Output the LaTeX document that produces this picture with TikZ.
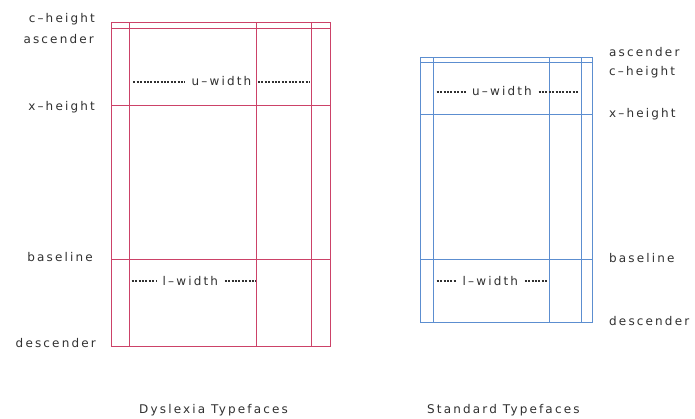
\documentclass[tikz,border=0pt]{standalone}
\usepackage{fontspec}
\usepackage{tikz}
\usetikzlibrary{calc}
\newfontfamily\lblfont[LetterSpace=18]{DejaVu Sans}
\definecolor{dyscol}{RGB}{204,66,104}
\definecolor{stdcol}{RGB}{92,142,208}
\definecolor{txtcol}{RGB}{48,48,48}
\begin{document}
\begin{tikzpicture}[x=1pt, y=-1pt,
    dysline/.style={draw=dyscol, line width=1pt},
    stdline/.style={draw=stdcol, line width=1pt},
    lbl/.style={inner sep=0pt, text=txtcol, font=\lblfont\fontsize{12}{14}\selectfont},
    wlbl/.style={lbl, inner xsep=6.5pt},
    wdots/.style={draw=txtcol, line width=1.7pt, dash pattern=on 2pt off 1.4pt}]
    \useasboundingbox (0,0) rectangle (695,419);

    % Dyslexia box: outline, then the metric lines
    \draw[dysline] (111.7,22.7) rectangle (330,346.3);
    \draw[dysline] (129.3,22.7) -- (129.3,346.3);
    \draw[dysline] (256.7,22.7) -- (256.7,346.3);
    \draw[dysline] (311.7,22.7) -- (311.7,346.3);
    \draw[dysline] (111.7,28.3) -- (330,28.3);
    \draw[dysline] (111.7,105.3) -- (330,105.3);
    \draw[dysline] (111.7,259.3) -- (330,259.3);

    % Standard box: outline, then the metric lines
    \draw[stdline] (420.7,57.7) rectangle (592.7,322.7);
    \draw[stdline] (433.3,57.7) -- (433.3,322.7);
    \draw[stdline] (549,57.7) -- (549,322.7);
    \draw[stdline] (581,57.7) -- (581,322.7);
    \draw[stdline] (420.7,62.3) -- (592.7,62.3);
    \draw[stdline] (420.7,114.3) -- (592.7,114.3);
    \draw[stdline] (420.7,259.3) -- (592.7,259.3);

    % Metric names for the dyslexia box
    \node[lbl, anchor=base east] (dch) at (95,22.7) {c–height};
    \node[lbl, anchor=base east] (das) at (94,44) {ascender};
    \node[lbl, anchor=base east] (dxh) at (95,110.7) {x–height};
    \node[lbl, anchor=base east] (dbl) at (93,261.7) {baseline};
    \node[lbl, anchor=base east] (dde) at (96,347.7) {descender};

    % Metric names for the standard box
    \node[lbl, anchor=base west] (sas) at (609,56.7) {ascender};
    \node[lbl, anchor=base west] (sch) at (609,76) {c–height};
    \node[lbl, anchor=base west] (sxh) at (609,117.7) {x–height};
    \node[lbl, anchor=base west] (sbl) at (609,262.3) {baseline};
    \node[lbl, anchor=base west] (sde) at (609,325) {descender};

    % Width markers, dyslexia box
    \node[wlbl, anchor=base west] (duw) at (185,86) {u–width};
    \coordinate (duwa) at (133.3,81.7);
    \coordinate (duwb) at (310,81.7);
    \draw[wdots] (duwa) -- (duwa -| duw.west);
    \draw[wdots] (duw.east |- duwb) -- (duwb);

    \node[wlbl, anchor=base west] (dlw) at (156,285) {l–width};
    \coordinate (dlwa) at (131.7,280.7);
    \coordinate (dlwb) at (256,280.7);
    \draw[wdots] (dlwa) -- (dlwa -| dlw.west);
    \draw[wdots] (dlw.east |- dlwb) -- (dlwb);

    % Width markers, standard box
    \node[wlbl, anchor=base west] (suw) at (465.5,95.7) {u–width};
    \coordinate (suwa) at (436.7,92.3);
    \coordinate (suwb) at (579,92.3);
    \draw[wdots] (suwa) -- (suwa -| suw.west);
    \draw[wdots] (suw.east |- suwb) -- (suwb);

    \node[wlbl, anchor=base west] (slw) at (456,285) {l–width};
    \coordinate (slwa) at (436.7,281);
    \coordinate (slwb) at (547.7,281);
    \draw[wdots] (slwa) -- (slwa -| slw.west);
    \draw[wdots] (slw.east |- slwb) -- (slwb);

    % Captions
    \node[lbl, anchor=base west] (dcap) at (139,413.3) {Dyslexia Typefaces};
    \node[lbl, anchor=base west] (scap) at (427,413.3) {Standard Typefaces};
\end{tikzpicture}
\end{document}
